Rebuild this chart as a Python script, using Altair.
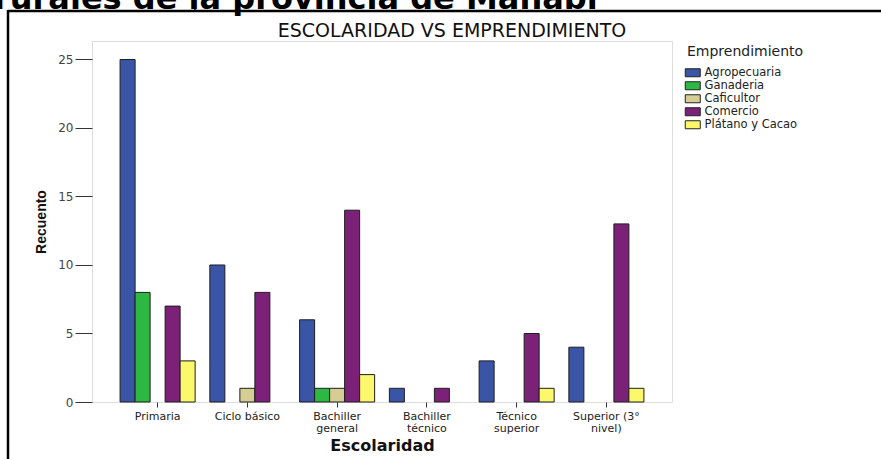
import altair as alt
import pandas as pd

# ---- data ----
escolaridad = ["Primaria", "Ciclo básico", "Bachiller general", "Bachiller técnico",
               "Técnico superior", "Superior (3° nivel)"]
label_lines = [["Primaria"], ["Ciclo básico"], ["Bachiller", "general"], ["Bachiller", "técnico"],
               ["Técnico", "superior"], ["Superior (3°", "nivel)"]]
emprendimiento = ["Agropecuaria", "Ganaderia", "Caficultor", "Comercio", "Plátano y Cacao"]
colores = ["#3b55a6", "#2db843", "#d5cd93", "#7b2278", "#fcf86c"]
agropecuaria = [25, 10, 6, 1, 3, 4]
ganaderia = [8, 0, 1, 0, 0, 0]
caficultor = [0, 1, 1, 0, 0, 0]
comercio = [7, 8, 14, 1, 5, 13]
platano = [3, 0, 2, 0, 1, 1]
y_ticks = [0, 5, 10, 15, 20, 25]
caption = "rurales de la provincia de Manabí"
titulo = "ESCOLARIDAD VS EMPRENDIMIENTO"

series = [agropecuaria, ganaderia, caficultor, comercio, platano]
rows = []
for emp, vals in zip(emprendimiento, series):
    for esc, v in zip(escolaridad, vals):
        rows.append({"Escolaridad": esc, "Emprendimiento": emp, "Recuento": v})
df = pd.DataFrame(rows)

# multi-line x labels
expr = "datum.label"
for cat, lines in zip(escolaridad, label_lines):
    if len(lines) > 1:
        arr = "[" + ",".join("'" + l + "'" for l in lines) + "]"
        expr = f"datum.label == '{cat}' ? {arr} : ({expr})"

W, H = 580, 361
PL, PT = 92, 41

bars = alt.Chart(df).transform_filter("datum.Recuento > 0").mark_bar(
    stroke="#1e1e1e", strokeWidth=1
).encode(
    x=alt.X("Escolaridad:N", sort=escolaridad,
            scale=alt.Scale(paddingInner=0.164, paddingOuter=0.313),
            axis=alt.Axis(title="Escolaridad", labelAngle=0, labelExpr=expr,
                          labelFont="DejaVu Sans", labelFontSize=11, labelColor="#222",
                          labelLineHeight=12, labelPadding=3, labelBaseline="top",
                          tickSize=5, tickColor="#333", domain=False,
                          titleFont="DejaVu Sans", titleFontSize=16, titleFontWeight="bold",
                          titleColor="#111", titlePadding=4)),
    xOffset=alt.XOffset("Emprendimiento:N", sort=emprendimiento,
                        scale=alt.Scale(domain=emprendimiento, paddingInner=0, paddingOuter=0)),
    y=alt.Y("Recuento:Q", scale=alt.Scale(domain=[0, 26.35], nice=False),
            axis=alt.Axis(title="Recuento", values=y_ticks, grid=False, domain=False,
                          tickSize=17, tickColor="#333", labelPadding=2,
                          labelFont="DejaVu Sans", labelFontSize=12, labelColor="#444",
                          titleFont="Liberation Sans", titleFontSize=14, titleFontWeight="bold",
                          titleColor="#111", titlePadding=9)),
    color=alt.Color("Emprendimiento:N", sort=emprendimiento,
                    scale=alt.Scale(domain=emprendimiento, range=colores),
                    legend=alt.Legend(title="Emprendimiento", orient="none",
                                      legendX=595, legendY=4, padding=0,
                                      titleFont="DejaVu Sans", titleFontSize=14,
                                      titleFontWeight="normal", titleColor="#222",
                                      titlePadding=8,
                                      labelFont="DejaVu Sans", labelFontSize=11.5,
                                      labelColor="#222", labelOffset=6, rowPadding=0,
                                      symbolType="M-1.5,-0.8H1.5V0.8H-1.5Z", symbolSize=100,
                                      symbolStrokeColor="#222", symbolStrokeWidth=1,
                                      symbolOpacity=1)),
)

one = pd.DataFrame({"k": [0]})
frame_top = alt.Chart(one).mark_rule(color="#000", strokeWidth=2.5).encode(
    x=alt.value(-84), x2=alt.value(881 - PL), y=alt.value(-30))
frame_left = alt.Chart(one).mark_rule(color="#000", strokeWidth=2.5).encode(
    x=alt.value(-84), y=alt.value(-31), y2=alt.value(459 - PT + 5))
cut_line = alt.Chart(one).mark_rule(color="#000", strokeWidth=1.5).encode(
    x=alt.value(195 - PL), y=alt.value(-PT - 5), y2=alt.value(-30))
cap = alt.Chart(one).mark_text(align="left", baseline="alphabetic", font="DejaVu Sans",
                               fontSize=32, fontWeight="bold", color="#000").encode(
    x=alt.value(-98), y=alt.value(9 - PT), text=alt.value(caption))
title_mark = alt.Chart(one).mark_text(align="center", baseline="alphabetic", font="DejaVu Sans",
                                      fontSize=19, color="#111").encode(
    x=alt.value(452 - PL), y=alt.value(37 - PT), text=alt.value(titulo))

chart = alt.layer(bars, frame_top, frame_left, cut_line, cap, title_mark).properties(
    width=W, height=H,
    autosize=alt.AutoSizeParams(type="none"),
    padding={"left": PL, "top": PT, "right": 881 - PL - W, "bottom": 459 - PT - H},
).configure_view(fill="#f0f0f0", stroke="#6e6e6e", strokeWidth=1).configure(background="white")

chart.save("out.html", embed_options={"renderer": "svg", "actions": False})
